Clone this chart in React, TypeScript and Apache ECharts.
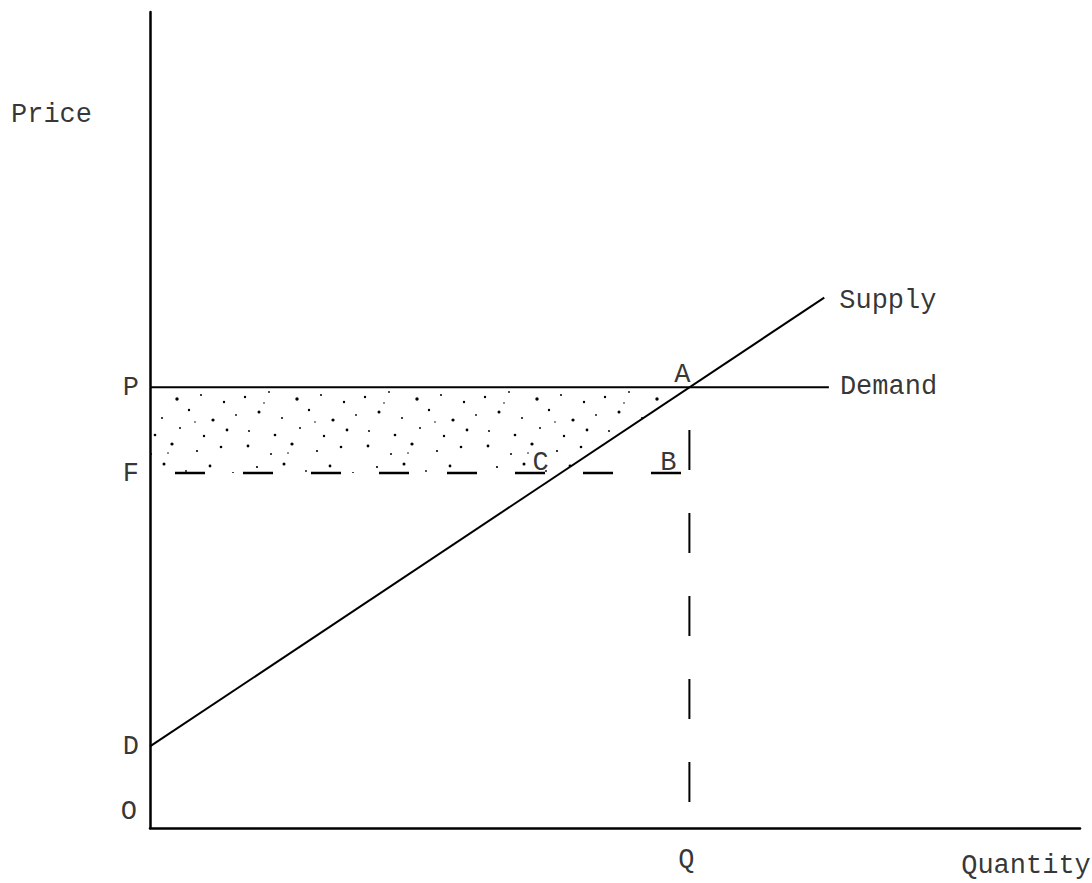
import React, { useEffect, useRef } from "react";
import * as echarts from "echarts";

// Values (axis units 0..100 on both axes)
const priceP = 54;
const priceF = 43.5;
const quantityQ = 58;
const supplyX = [0, 72.5];
const supplyY = [10, 65];
const demandX = [0, 73];
const axisLetters = ["P", "F", "D", "O"];
const axisLetterValues = [priceP, priceF, supplyY[0], 0];

const FONT = "'Liberation Mono', 'DejaVu Sans Mono', monospace";

function supplyXAt(y: number) {
  const slope = (supplyY[1] - supplyY[0]) / (supplyX[1] - supplyX[0]);
  return (y - supplyY[0]) / slope;
}

// stipple texture tile (style only)
const TILE_W = 120;
const TILE_H = 88;
const STIPPLE = [
  [8, 6, 1.4], [31, 14, 1.0], [52, 4, 1.6], [77, 11, 1.1], [101, 7, 1.3],
  [17, 27, 1.1], [44, 24, 1.5], [66, 31, 0.9], [90, 26, 1.4], [113, 33, 1.0],
  [5, 45, 1.2], [29, 40, 0.9], [57, 47, 1.7], [81, 43, 1.0], [104, 50, 1.2],
  [19, 60, 1.5], [42, 66, 1.0], [69, 58, 1.2], [93, 68, 1.6], [116, 63, 0.9],
  [9, 79, 1.0], [35, 83, 1.3], [60, 76, 1.0], [84, 84, 1.2], [107, 78, 1.4],
  [48, 13, 0.8], [24, 51, 0.8], [75, 70, 0.8],
];

function makeDotPattern() {
  const c = document.createElement("canvas");
  c.width = TILE_W;
  c.height = TILE_H;
  const ctx = c.getContext("2d")!;
  ctx.fillStyle = "#000";
  STIPPLE.forEach(([x, y, r]) => {
    ctx.beginPath();
    ctx.arc(x, y, r, 0, Math.PI * 2);
    ctx.fill();
  });
  return c;
}

export default function App() {
  const ref = useRef<HTMLDivElement>(null);
  useEffect(() => {
    document.body.style.margin = "0";
    const chart = echarts.init(ref.current!, undefined, { renderer: "svg" });
    const xA = supplyXAt(priceP);
    const xC = supplyXAt(priceF);
    const pattern = makeDotPattern();
    const textStyle = { fontFamily: FONT, fontSize: 27, color: "#000" };

    const labelPoints: any[] = [];
    axisLetters.forEach((t, i) => {
      labelPoints.push({
        value: [0, axisLetterValues[i]],
        label: {
          show: true, formatter: t, position: "left", distance: 11,
          offset: t === "O" ? [-2, -16] : [0, 1], ...textStyle,
        },
      });
    });
    labelPoints.push({ value: [xA, priceP], label: { show: true, formatter: "A", position: "top", distance: 0, offset: [-7, 1], ...textStyle } });
    labelPoints.push({ value: [quantityQ, priceF], label: { show: true, formatter: "B", position: "top", distance: 0, offset: [-21, 3], ...textStyle } });
    labelPoints.push({ value: [xC, priceF], label: { show: true, formatter: "C", position: "top", distance: 0, offset: [-20, 3], ...textStyle } });
    labelPoints.push({ value: [quantityQ, 0], label: { show: true, formatter: "Q", position: "bottom", distance: 18, offset: [-3, 0], ...textStyle } });
    labelPoints.push({ value: [100, 0], label: { show: true, formatter: "Quantity", position: "bottom", distance: 24, offset: [-54, 0], ...textStyle } });
    labelPoints.push({ value: [0, 87.4], label: { show: true, formatter: "Price", position: "left", distance: 58, ...textStyle } });
    labelPoints.push({ value: [supplyX[1], supplyY[1]], label: { show: true, formatter: "Supply", position: "right", distance: 15, offset: [0, 3], ...textStyle } });
    labelPoints.push({ value: [demandX[1], priceP], label: { show: true, formatter: "Demand", position: "right", distance: 11, ...textStyle } });

    chart.setOption({
      animation: false,
      backgroundColor: "#fff",
      grid: { left: 150, right: 12, top: 12, bottom: 55, containLabel: false },
      xAxis: {
        type: "value", min: 0, max: 100,
        axisLine: { show: true, lineStyle: { color: "#000", width: 2.5 } },
        axisTick: { show: false }, axisLabel: { show: false }, splitLine: { show: false },
      },
      yAxis: {
        type: "value", min: 0, max: 100,
        axisLine: { show: true, lineStyle: { color: "#000", width: 2.5 } },
        axisTick: { show: false }, axisLabel: { show: false }, splitLine: { show: false },
      },
      series: [
        {
          type: "custom",
          silent: true,
          data: [[0]],
          renderItem: (_p: any, api: any) => {
            const pts = [
              api.coord([0, priceP]),
              api.coord([xA, priceP]),
              api.coord([xC, priceF]),
              api.coord([0, priceF]),
            ];
            return {
              type: "polygon",
              shape: { points: pts },
              style: {
                fill: { image: pattern, repeat: "repeat", imageWidth: TILE_W, imageHeight: TILE_H },
                stroke: "none",
              },
            };
          },
          z: 1,
        },
        {
          type: "line", symbol: "none", z: 3,
          data: [[demandX[0], priceP], [demandX[1], priceP]],
          lineStyle: { color: "#000", width: 2 },
        },
        {
          type: "line", symbol: "none", z: 3,
          data: [[supplyX[0], supplyY[0]], [supplyX[1], supplyY[1]]],
          lineStyle: { color: "#000", width: 2 },
        },
        {
          type: "line", symbol: "none", z: 3,
          data: [[0, priceF], [quantityQ, priceF]],
          lineStyle: { color: "#000", width: 2.5, type: [30, 38], dashOffset: 43 },
        },
        {
          type: "line", symbol: "none", z: 3,
          data: [[quantityQ, 0], [quantityQ, priceP]],
          lineStyle: { color: "#000", width: 2, type: [40, 43], dashOffset: 57 },
        },
        {
          type: "scatter", symbolSize: 0, z: 4, silent: true,
          data: labelPoints,
        },
      ],
    });
    return () => chart.dispose();
  }, []);
  return <div ref={ref} style={{ width: 1092, height: 883 }} />;
}
